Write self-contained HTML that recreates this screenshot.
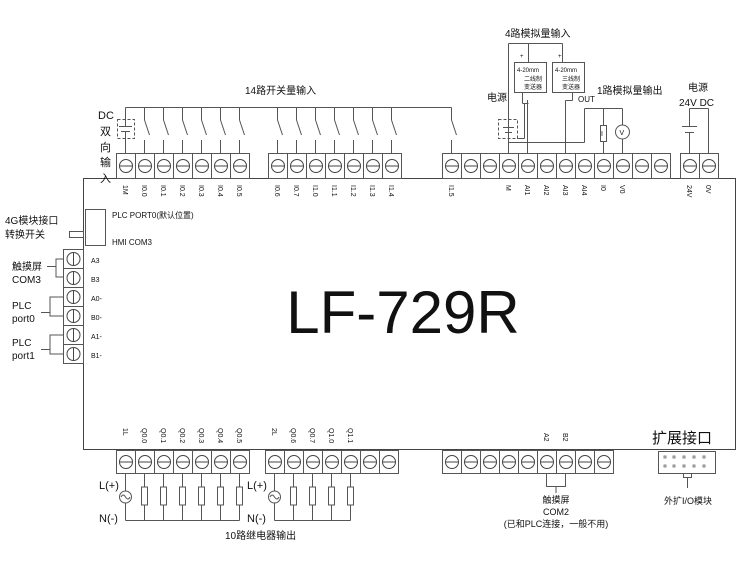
<!DOCTYPE html>
<html><head><meta charset="utf-8"><style>
html,body{margin:0;padding:0;background:#fff;}
svg{display:block;}
text{font-family:"Liberation Sans","Noto Sans CJK SC",sans-serif;fill:#111;}
</style></head><body>
<svg width="750" height="562" viewBox="0 0 750 562" xmlns="http://www.w3.org/2000/svg">
<g stroke="#333" stroke-width="1" fill="none">
<!-- main box -->
<rect x="83.5" y="178.5" width="652" height="271" stroke="#444"/>
</g>

<!-- top terminals -->
<g id="tt" stroke="#555" fill="#fff" stroke-width="1">
</g>
<script>
(function(){
var NS="http://www.w3.org/2000/svg";
var svg=document.querySelector('svg');
function el(n,a,p){var e=document.createElementNS(NS,n);for(var k in a)e.setAttribute(k,a[k]);(p||svg).appendChild(e);return e;}
function term(x,y,h,vert){ // x left, width 19
  el('rect',{x:x+0.5,y:y+0.5,width:19,height:h,fill:'#fff',stroke:'#555'});
  var cx=x+10,cy=y+h/2+0.5;
  el('circle',{cx:cx,cy:cy,r:6.5,fill:'#fff',stroke:'#444'});
  if(vert) el('line',{x1:cx,y1:cy-6.5,x2:cx,y2:cy+6.5,stroke:'#444'});
  else el('line',{x1:cx-6.5,y1:cy,x2:cx+6.5,y2:cy,stroke:'#444'});
}
var i;
for(i=0;i<7;i++)term(116+19*i,153,25);
for(i=0;i<7;i++)term(268+19*i,153,25);
for(i=0;i<12;i++)term(442+19*i,153,25);
for(i=0;i<2;i++)term(680+19*i,153,25);
for(i=0;i<7;i++)term(116+19*i,450,23);
for(i=0;i<7;i++)term(265+19*i,450,23);
for(i=0;i<9;i++)term(442+19*i,450,23);
for(i=0;i<6;i++){
  el('rect',{x:63.5,y:249.5+19*i,width:20,height:19,fill:'#fff',stroke:'#555'});
  el('circle',{cx:73.5,cy:259+19*i,r:6.5,fill:'#fff',stroke:'#444'});
  el('line',{x1:73.5,y1:252.5+19*i,x2:73.5,y2:265.5+19*i,stroke:'#444'});
}
function rt(x,y,s){var t=el('text',{x:0,y:0,'font-size':7,transform:'translate('+x+','+y+') rotate(90)'});t.textContent=s;}
var top1=['1M','I0.0','I0.1','I0.2','I0.3','I0.4','I0.5'];
for(i=0;i<7;i++)rt(123+19*i,185,top1[i]);
var top2=['I0.6','I0.7','I1.0','I1.1','I1.2','I1.3','I1.4'];
for(i=0;i<7;i++)rt(275+19*i,185,top2[i]);
var top3={0:'I1.5',3:'M',4:'AI1',5:'AI2',6:'AI3',7:'AI4',8:'I0',9:'V0'};
for(var k in top3)rt(449+19*k,185,top3[k]);
rt(687,185,'24V');rt(706,185,'0V');
var b1=['1L','Q0.0','Q0.1','Q0.2','Q0.3','Q0.4','Q0.5'];
for(i=0;i<7;i++)rt(123+19*i,428,b1[i]);
var b2=['2L','Q0.6','Q0.7','Q1.0','Q1.1'];
for(i=0;i<5;i++)rt(272+19*i,428,b2[i]);
rt(544,433,'A2');rt(563,433,'B2');
})();
</script>

<g stroke="#555" stroke-width="1" fill="none">
<!-- 14 input wiring -->
<line x1="125.5" y1="107.5" x2="451.5" y2="107.5"/>
<line x1="125.5" y1="107.5" x2="125.5" y2="126"/>
<line x1="125.5" y1="132" x2="125.5" y2="153"/>
<line x1="119" y1="126.5" x2="132" y2="126.5"/>
<line x1="121" y1="131.5" x2="130" y2="131.5"/>
<rect x="117.5" y="119.5" width="17" height="19" stroke-dasharray="3,2"/>
</g>
<g stroke="#555" stroke-width="1" fill="none" id="sw"></g>
<script>
(function(){
var NS="http://www.w3.org/2000/svg";var g=document.getElementById('sw');
function l(a,b,c,d){var e=document.createElementNS(NS,'line');e.setAttribute('x1',a);e.setAttribute('y1',b);e.setAttribute('x2',c);e.setAttribute('y2',d);g.appendChild(e);}
var xs=[],i;
for(i=1;i<7;i++)xs.push(125.5+19*i);
for(i=0;i<7;i++)xs.push(277.5+19*i);
xs.push(451.5);
xs.forEach(function(x){l(x,107.5,x,120);l(x,120,x+5,135);l(x,140,x,153);});
// outputs
function load(x){l(x,473,x,487);var r=document.createElementNS(NS,'rect');r.setAttribute('x',x-3);r.setAttribute('y',487);r.setAttribute('width',6);r.setAttribute('height',18);g.appendChild(r);l(x,505,x,520.5);}
for(i=1;i<7;i++)load(125.5+19*i);
l(125.5,473,125.5,491);l(125.5,503,125.5,520.5);l(125.5,520.5,239.5,520.5);
for(i=1;i<5;i++)load(274.5+19*i);
l(274.5,473,274.5,491);l(274.5,503,274.5,520.5);l(274.5,520.5,350.5,520.5);
})();
</script>

<g stroke="#555" stroke-width="1" fill="none">
<circle cx="125.5" cy="497" r="6"/>
<path d="M121 497 q2-4 4.5 0 t4.5 0"/>
<circle cx="274.5" cy="497" r="6"/>
<path d="M270 497 q2-4 4.5 0 t4.5 0"/>

<!-- analog input -->
<line x1="508.5" y1="43.5" x2="508.5" y2="153"/>
<line x1="508.5" y1="43.5" x2="562.5" y2="43.5"/>
<line x1="562.5" y1="43.5" x2="562.5" y2="62"/>
<line x1="528.5" y1="43.5" x2="528.5" y2="62"/>
<rect x="514.5" y="62.5" width="32" height="30"/>
<rect x="552.5" y="62.5" width="32" height="30"/>
<line x1="522.5" y1="92.5" x2="522.5" y2="103.5"/>
<line x1="522.5" y1="103.5" x2="528.5" y2="103.5"/>
<line x1="527.5" y1="100" x2="527.5" y2="153"/>
<line x1="524.5" y1="103.5" x2="524.5" y2="138.5"/>
<line x1="524.5" y1="138.5" x2="517" y2="138.5"/>
<rect x="498.5" y="119.5" width="19" height="19" stroke-dasharray="3,2"/>
<line x1="503" y1="127.5" x2="514" y2="127.5"/>
<line x1="505" y1="132.5" x2="512" y2="132.5"/>
<line x1="572.5" y1="92.5" x2="572.5" y2="100.5"/>
<line x1="572.5" y1="100.5" x2="565.5" y2="100.5"/>
<line x1="565.5" y1="100.5" x2="565.5" y2="153"/>
<!-- analog out -->
<line x1="508.5" y1="142.5" x2="584.5" y2="142.5"/>
<line x1="584.5" y1="142.5" x2="584.5" y2="108.5"/>
<line x1="584.5" y1="108.5" x2="622.5" y2="108.5"/>
<line x1="603.5" y1="108.5" x2="603.5" y2="125"/>
<rect x="600.5" y="125.5" width="6" height="16"/>
<line x1="603.5" y1="141.5" x2="603.5" y2="153"/>
<line x1="622.5" y1="108.5" x2="622.5" y2="125"/>
<circle cx="622.5" cy="132" r="7"/>
<line x1="622.5" y1="139" x2="622.5" y2="153"/>
<!-- 24V -->
<line x1="689.5" y1="108.5" x2="708.5" y2="108.5"/>
<line x1="689.5" y1="108.5" x2="689.5" y2="126"/>
<line x1="682" y1="126.5" x2="697" y2="126.5"/>
<line x1="685" y1="132.5" x2="694" y2="132.5"/>
<line x1="689.5" y1="132.5" x2="689.5" y2="153"/>
<line x1="708.5" y1="108.5" x2="708.5" y2="153"/>
<!-- left -->
<rect x="85.5" y="209.5" width="20" height="36"/>
<rect x="69.5" y="231.5" width="14" height="6"/>
<path d="M47 266.5 H56 V259 H63 M56 266.5 V277 H63"/>
<path d="M41 312.5 H50 V297 H63 M50 312.5 V316 H63"/>
<path d="M41 349.5 H50 V335 H63 M50 349.5 V354 H63"/>
<!-- COM2 -->
<path d="M546.5 473 V486.5 H565.5 V473 M556 486.5 V493"/>
<!-- expansion -->
<rect x="658.5" y="451.5" width="57" height="22"/>
<rect x="683.5" y="473.5" width="8" height="4"/>
<line x1="687.5" y1="477.5" x2="687.5" y2="488"/>
</g>
<g fill="none" stroke="#666" stroke-width="0.8">
<rect x="664" y="456" width="2" height="2"/><rect x="673" y="456" width="2" height="2"/><rect x="683" y="456" width="2" height="2"/><rect x="693" y="456" width="2" height="2"/><rect x="703" y="456" width="2" height="2"/>
<rect x="664" y="465" width="2" height="2"/><rect x="673" y="465" width="2" height="2"/><rect x="683" y="465" width="2" height="2"/><rect x="693" y="465" width="2" height="2"/><rect x="703" y="465" width="2" height="2"/>
</g>

<!-- texts -->
<text x="245" y="94" font-size="10">14路开关量输入</text>
<text x="98" y="119" font-size="11">DC</text>
<text x="100" y="135" font-size="11">双</text>
<text x="100" y="151" font-size="11">向</text>
<text x="100" y="166" font-size="11">输</text>
<text x="100" y="182" font-size="11">入</text>
<text x="505" y="37" font-size="10">4路模拟量输入</text>
<text x="520" y="58" font-size="6">+</text>
<text x="558" y="58" font-size="6">+</text>
<text x="517" y="72" font-size="6">4-20mm</text>
<text x="524" y="81" font-size="6">二线制</text>
<text x="524" y="89" font-size="6">变送器</text>
<text x="555" y="72" font-size="6">4-20mm</text>
<text x="562" y="81" font-size="6">三线制</text>
<text x="562" y="89" font-size="6">变送器</text>
<text x="487" y="101" font-size="10">电源</text>
<text x="578" y="102" font-size="8">OUT</text>
<text x="597" y="94" font-size="10">1路模拟量输出</text>
<text x="601" y="136" font-size="7">I</text>
<text x="619.5" y="135" font-size="7">V</text>
<text x="688" y="91" font-size="10">电源</text>
<text x="679" y="106" font-size="10">24V DC</text>
<text x="5" y="224" font-size="10">4G模块接口</text>
<text x="5" y="238" font-size="10">转换开关</text>
<text x="112" y="218" font-size="8">PLC PORT0(默认位置)</text>
<text x="112" y="245" font-size="8">HMI COM3</text>
<text x="12" y="270" font-size="10">触摸屏</text>
<text x="12" y="283" font-size="10">COM3</text>
<text x="12" y="309" font-size="10">PLC</text>
<text x="12" y="322" font-size="10">port0</text>
<text x="12" y="346" font-size="10">PLC</text>
<text x="12" y="359" font-size="10">port1</text>
<text x="91" y="263" font-size="7">A3</text>
<text x="91" y="282" font-size="7">B3</text>
<text x="91" y="301" font-size="7">A0-</text>
<text x="91" y="320" font-size="7">B0-</text>
<text x="91" y="339" font-size="7">A1-</text>
<text x="91" y="358" font-size="7">B1-</text>
<text x="403" y="333" font-size="60" text-anchor="middle" fill="#111">LF-729R</text>
<text x="652" y="443" font-size="15">扩展接口</text>
<text x="99" y="489" font-size="11">L(+)</text>
<text x="99" y="522" font-size="11">N(-)</text>
<text x="247" y="489" font-size="11">L(+)</text>
<text x="247" y="522" font-size="11">N(-)</text>
<text x="225" y="539" font-size="10">10路继电器输出</text>
<text x="556" y="503" font-size="9" text-anchor="middle">触摸屏</text>
<text x="556" y="515" font-size="9" text-anchor="middle">COM2</text>
<text x="556" y="527" font-size="9" text-anchor="middle">(已和PLC连接，一般不用)</text>
<text x="688" y="504" font-size="9" text-anchor="middle">外扩I/O模块</text>
</svg>
</body></html>
